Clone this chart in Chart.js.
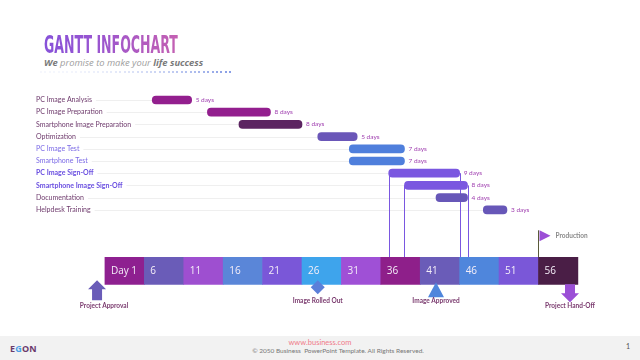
<!DOCTYPE html>
<html><head><meta charset="utf-8">
<script src="https://cdn.jsdelivr.net/npm/chart.js@4.4.1/dist/chart.umd.min.js"></script>
<style>
html,body{margin:0;padding:0;background:#fff;width:640px;height:360px;overflow:hidden;position:relative;font-family:'Open Sans',sans-serif}
#c{position:absolute;left:0;top:0}
.title{position:absolute;left:44px;top:31px;font-family:'DejaVu Sans Condensed','DejaVu Sans';font-weight:bold;font-size:24.5px;line-height:28px;transform:scaleX(0.57);transform-origin:left top;white-space:nowrap;background:linear-gradient(90deg,#8752d9 0%,#9a55d0 40%,#c460b2 100%);-webkit-background-clip:text;background-clip:text;color:transparent}
.sub{position:absolute;left:44px;top:56px;font-family:'Open Sans';font-style:italic;font-size:9.4px;color:#a0a0a0;white-space:nowrap}
.sub b{color:#7a7a7a}
#dots{position:absolute;left:40px;top:71px;height:2px;width:195px}
#dots span{position:absolute;top:0;width:2px;height:2px;background:#8a9fe6}
.footer{position:absolute;left:0;top:336px;width:640px;height:24px;background:#f2f2f2}
.egon{position:absolute;left:10px;top:342px;font-family:'Open Sans';font-weight:bold;font-size:9px;color:#6b3a6b;letter-spacing:0.2px}
.egon i{font-style:normal;color:#4a9fe6}
.www{position:absolute;left:0;width:640px;text-align:center;top:338px;font-family:'Lato';font-size:7.5px;color:#f07a8a}
.copy{position:absolute;left:18px;width:640px;text-align:center;top:347px;font-family:'Lato';font-size:6.5px;color:#777}
.pg{position:absolute;left:626px;top:342px;font-family:'Lato';font-size:7px;color:#555}
</style></head>
<body>
<div class="title">GANTT INFOCHART</div>
<div class="sub"><b>We</b> promise to make your <b>life success</b></div>
<div id="dots"></div>
<div class="footer"></div>
<div class="egon">E<i>G</i>ON</div>
<div class="www">www.business.com</div>
<div class="copy">© 2050 Business&nbsp; PowerPoint Template. All Rights Reserved.</div>
<div class="pg">1</div>
<canvas id="c" width="640" height="360"></canvas>
<script>
// ---- data ----
const tasks = ['PC Image Analysis','PC Image Preparation','Smartphone Image Preparation','Optimization','PC Image Test','Smartphone Test','PC Image Sign-Off','Smartphone Image Sign-Off','Documentation','Helpdesk Training'];
const taskStart = [7,14,18,28,32,32,37,39,43,49];
const taskDays  = [5,8,8,5,7,7,9,8,4,3];
const timelineTicks = ['Day 1','6','11','16','21','26','31','36','41','46','51','56'];
const timelineStart = [1,6,11,16,21,26,31,36,41,46,51,56];
const segmentDays = 5;
const milestoneLabels = ['Project Approval','Image Rolled Out','Image Approved','Project Hand-Off'];
const milestoneDays = [0,28,43,60];
const flagLabel = 'Production';
const flagDay = 56;
const signOffRows = [6,7];

// ---- styles ----
const taskColors = ['#931f8e','#931f8e','#5c2461','#6a56b8','#4f7fdc','#4f7fdc','#7a57e0','#7a57e0','#6757b8','#6757b8'];
const labelColors = ['#6e3a6c','#6e3a6c','#6e3a6c','#6e3a6c','#7b6ae6','#7b6ae6','#6a4fe0','#6a4fe0','#6e3a6c','#6e3a6c'];
const segColors = ['#8e2090','#6a5cb8','#9e4fd0','#5a86d8','#7a57d8','#3ea4ec','#9f50d6','#8e1f8a','#6a5cb8','#4f86dc','#7a57d8','#4a1e46'];
const TL = 'TIMELINE';
const rowLabels = tasks.concat(['','','','',TL,'']);
const labelFont = i => ({family:'Lato', size:7, weight: signOffRows.includes(i) ? 'bold' : 'normal'});

// dotted line
(function(){const d=document.getElementById('dots');for(let i=0;i<44;i++){const s=document.createElement('span');s.style.left=(i*4.4)+'px';s.style.opacity=Math.min(1,0.08+Math.pow(i/43,2)*0.95);d.appendChild(s);}})();

const deco = {
  id:'deco',
  beforeDatasetsDraw(chart){
    const {ctx, scales:{x,y}} = chart;
    ctx.save();
    ctx.strokeStyle = '#efefef'; ctx.lineWidth = 1;
    tasks.forEach((t,i)=>{
      const f = labelFont(i);
      ctx.font = `${f.weight} ${f.size}px ${f.family}`;
      const w = ctx.measureText(t).width;
      const yy = Math.round(y.getPixelForValue(i)) + 0.5;
      const x0 = chart.chartArea.left + 2 + w + 4;
      const x1 = x.getPixelForValue(taskStart[i]);
      if (x1 > x0){ ctx.beginPath(); ctx.moveTo(x0,yy); ctx.lineTo(x1,yy); ctx.stroke(); }
    });
    // connectors from sign-off bars to timeline
    const tlTop = y.getPixelForValue(rowLabels.indexOf(TL)) - 13.5;
    ctx.strokeStyle = '#7a57e0'; ctx.lineWidth = 1;
    signOffRows.forEach(r=>{
      const yy = y.getPixelForValue(r);
      [taskStart[r], taskStart[r]+taskDays[r]].forEach(d=>{
        const xx = Math.round(x.getPixelForValue(d)) + 0.5;
        ctx.beginPath(); ctx.moveTo(xx, yy); ctx.lineTo(xx, tlTop); ctx.stroke();
      });
    });
    // production flag
    const fx = Math.round(x.getPixelForValue(flagDay)) + 0.5;
    const fTop = tlTop - 27;
    ctx.strokeStyle = '#5a5a3a';
    ctx.beginPath(); ctx.moveTo(fx, fTop); ctx.lineTo(fx, tlTop); ctx.stroke();
    ctx.fillStyle = '#9b4fd6';
    ctx.beginPath(); ctx.moveTo(fx+1, fTop); ctx.lineTo(fx+12, fTop+5.5); ctx.lineTo(fx+1, fTop+11); ctx.closePath(); ctx.fill();
    ctx.fillStyle = '#8a8a8a'; ctx.font = 'bold 6.5px Lato'; ctx.textBaseline = 'middle'; ctx.textAlign = 'left';
    ctx.fillText(flagLabel, fx + 17, fTop + 5.5);
    ctx.restore();
  },
  afterDatasetsDraw(chart){
    const {ctx} = chart;
    ctx.save();
    const m0 = chart.getDatasetMeta(0);
    ctx.font = '6.5px Lato'; ctx.fillStyle = '#a040b0'; ctx.textBaseline = 'middle'; ctx.textAlign = 'left';
    m0.data.forEach((el,i)=>{
      ctx.fillText(taskDays[i] + ' days', Math.max(el.x, el.base) + 4, el.y);
    });
    const m1 = chart.getDatasetMeta(1);
    ctx.font = '10px "Open Sans"'; ctx.fillStyle = '#f4eef8';
    m1.data.forEach((el,i)=>{
      ctx.fillText(timelineTicks[i], Math.min(el.x, el.base) + 6, el.y + 0.5);
    });
    ctx.restore();
  },
  afterDraw(chart){
    const {ctx, scales:{x,y}} = chart;
    const tlY = y.getPixelForValue(rowLabels.indexOf(TL));
    const tlBot = tlY + 13.5;
    ctx.save();
    ctx.textAlign = 'center'; ctx.textBaseline = 'middle'; ctx.font = 'bold 6.5px Lato'; 
    milestoneDays.forEach((d,i)=>{
      const cx = x.getPixelForValue(d);
      ctx.beginPath();
      if (i === 0){ // up arrow
        ctx.fillStyle = '#6a5cb8';
        ctx.moveTo(cx, tlBot - 4); ctx.lineTo(cx+9, tlBot+5); ctx.lineTo(cx+5, tlBot+5); ctx.lineTo(cx+5, tlBot+16);
        ctx.lineTo(cx-5, tlBot+16); ctx.lineTo(cx-5, tlBot+5); ctx.lineTo(cx-9, tlBot+5); ctx.closePath();
      } else if (i === 1){ // diamond
        ctx.fillStyle = '#5b7fd9';
        ctx.moveTo(cx, tlBot - 4); ctx.lineTo(cx+7, tlBot+3); ctx.lineTo(cx, tlBot+10); ctx.lineTo(cx-7, tlBot+3); ctx.closePath();
      } else if (i === 2){ // triangle
        ctx.fillStyle = '#4f86dc';
        ctx.moveTo(cx, tlBot - 2); ctx.lineTo(cx+8, tlBot+13); ctx.lineTo(cx-8, tlBot+13); ctx.closePath();
      } else { // down arrow
        ctx.fillStyle = '#9b4fd6';
        ctx.moveTo(cx-5, tlBot); ctx.lineTo(cx+5, tlBot); ctx.lineTo(cx+5, tlBot+9); ctx.lineTo(cx+9, tlBot+9);
        ctx.lineTo(cx, tlBot+18); ctx.lineTo(cx-9, tlBot+9); ctx.lineTo(cx-5, tlBot+9); ctx.closePath();
      }
      ctx.fill();
      ctx.fillStyle = '#7a3a6e';
      const ly = (i === 0 || i === 3) ? tlBot + 22 : tlBot + 17;
      const lx = i === 0 ? cx + 7 : cx;
      ctx.fillText(milestoneLabels[i], lx, ly);
    });
    ctx.restore();
  }
};

new Chart(document.getElementById('c'), {
  type: 'bar',
  data: {
    labels: rowLabels,
    datasets: [
      {
        data: tasks.map((t,i)=>({x:[taskStart[i], taskStart[i]+taskDays[i]], y:t})),
        backgroundColor: taskColors,
        barThickness: 8,
        borderRadius: 4,
        borderSkipped: false,
        grouped: false
      },
      {
        data: timelineStart.map(s=>({x:[s, s+segmentDays], y:TL})),
        backgroundColor: segColors,
        barThickness: 27,
        borderRadius: 0,
        grouped: false
      }
    ]
  },
  options: {
    indexAxis: 'y',
    responsive: false,
    animation: false,
    layout: {padding: {left: 34, right: 22.7, top: 93.9, bottom: 70.9}},
    plugins: {legend: {display: false}, tooltip: {enabled: false}},
    scales: {
      x: {type: 'linear', min: -8, max: 66, display: false},
      y: {
        type: 'category',
        grid: {display: false},
        border: {display: false},
        afterFit: s => { s.width = 0; },
        ticks: {
          mirror: true, padding: 2, autoSkip: false,
          callback: (v, i) => i < tasks.length ? tasks[i] : '',
          font: c => labelFont(c.index),
          color: c => labelColors[c.index] || '#000'
        }
      }
    }
  },
  plugins: [deco]
});
</script>
</body></html>
